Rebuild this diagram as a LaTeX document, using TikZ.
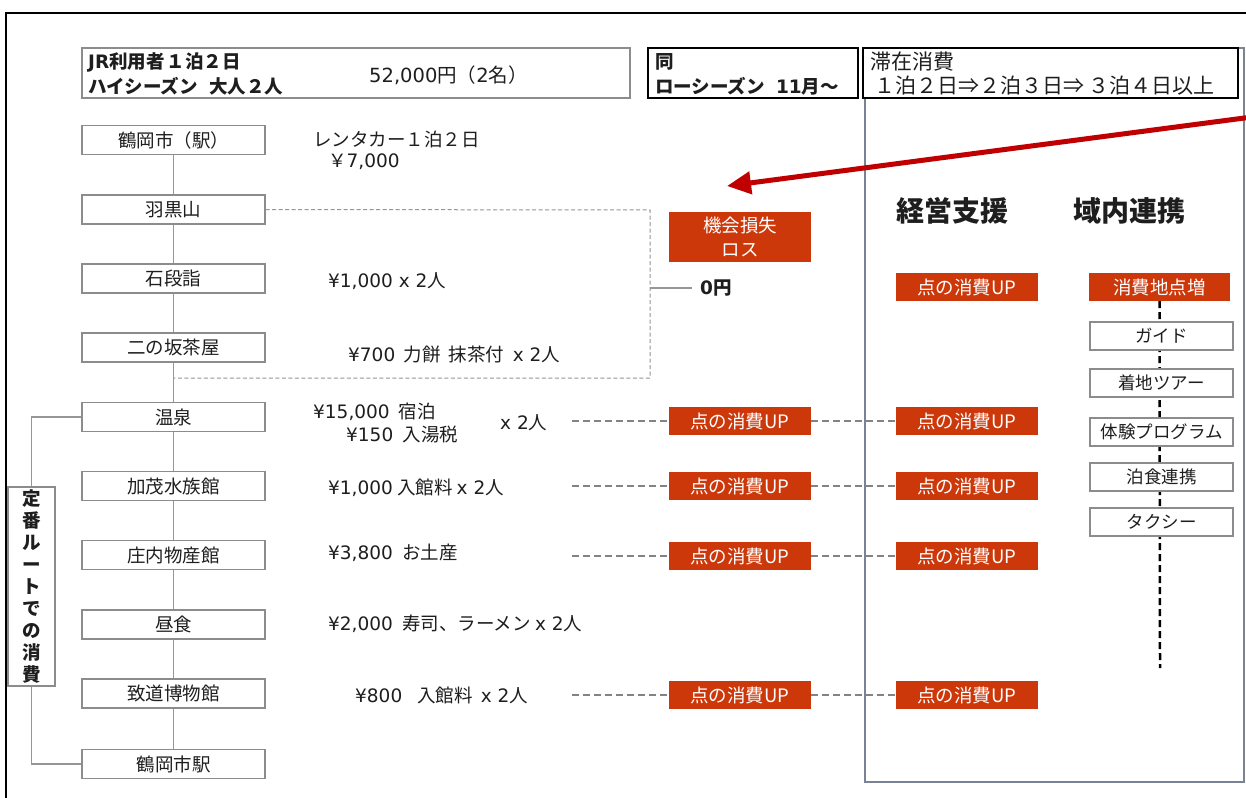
\documentclass[tikz,border=0pt]{standalone}
\usepackage{fontspec}
\setmainfont{Noto Sans CJK JP}
\newfontfamily\lat{DejaVu Sans}
\usetikzlibrary{arrows.meta}
\definecolor{accent}{RGB}{204,56,10}
\definecolor{boxgray}{RGB}{140,140,140}
\definecolor{linegray}{RGB}{150,150,150}
\definecolor{dashgray}{RGB}{130,130,136}
\definecolor{panelline}{RGB}{120,132,150}
\definecolor{arrowred}{RGB}{192,0,0}
\definecolor{ink}{RGB}{30,30,30}
\tikzset{
  base/.style={font=\fontsize{18.5}{22}\selectfont, text=ink, inner sep=0pt},
  treebox/.style={base, draw=boxgray, line width=1.2pt, fill=white, minimum width=183pt, minimum height=29pt},
  sidebox/.style={base, font=\fontsize{17.5}{21}\selectfont, draw=boxgray, line width=1.2pt, fill=white, minimum width=143pt, minimum height=28pt},
  orbox/.style={base, fill=accent, text=white, minimum width=142pt, minimum height=28pt},
  hdrbox/.style={draw=boxgray, line width=1.2pt, minimum height=50pt},
  darkbox/.style={draw=black, line width=2pt, fill=white, minimum height=50pt},
  txt/.style={base, anchor=west},
  btxt/.style={base, anchor=west, font=\fontsize{18.5}{22}\selectfont\bfseries},
  bigtxt/.style={base, anchor=west, font=\fontsize{21}{25}\selectfont},
  heading/.style={base, font=\fontsize{28}{32}\selectfont\bfseries},
  conn/.style={draw=linegray, line width=1.2pt},
  thindash/.style={draw=linegray, line width=1pt, dash pattern=on 4pt off 2.5pt},
  rowdash/.style={draw=dashgray, line width=2pt, dash pattern=on 7pt off 4pt},
  blackdash/.style={draw=black, line width=2.5pt, dash pattern=on 7pt off 4pt},
  redarrow/.style={draw=arrowred, line width=5pt, -{Triangle[length=24pt,width=22pt]}},
}
\begin{document}
\begin{tikzpicture}[x=1pt,y=-1pt]
\useasboundingbox (0,0) rectangle (1246,797);
\fill[white] (0,0) rectangle (1246,797);
% outer frame
\draw[black, line width=2pt] (6,800) -- (6,13) -- (1250,13);

% right panel
\draw[panelline, line width=1.3pt] (865,48) rectangle (1244,782);

% header boxes
\node[hdrbox, minimum width=548pt] (h1) at (356,73) {};
\node[btxt] (h1a) at (88,62) {{\lat JR}利用者\hspace{0.1em}１泊２日};
\node[btxt] (h1b) at (88,86) {ハイシーズン\hspace{0.6em}大人２人};
\node[txt, font=\fontsize{19.5}{23}\selectfont] (h1c) at (369,75) {{\lat 52,000}円（{\lat 2}名）};
\node[darkbox, minimum width=210pt] (h2) at (753,73) {};
\node[btxt] (h2a) at (655,62) {同};
\node[btxt] (h2b) at (655,86) {ローシーズン\hspace{0.6em}{\lat 11}月～};
\node[darkbox, minimum width=375pt] (h3) at (1050.5,73) {};
\node[bigtxt] (h3a) at (870,62) {滞在消費};
\node[bigtxt] (h3b) at (874,86) {１泊２日⇒２泊３日⇒ ３泊４日以上};

% tree
\node[treebox] (t1) at (173.5,140) {鶴岡市（駅）};
\node[treebox] (t2) at (173.5,209.5) {羽黒山};
\node[treebox] (t3) at (173.5,278.5) {石段詣};
\node[treebox] (t4) at (173.5,347.5) {二の坂茶屋};
\node[treebox] (t5) at (173.5,417) {温泉};
\node[treebox] (t6) at (173.5,486) {加茂水族館};
\node[treebox] (t7) at (173.5,555) {庄内物産館};
\node[treebox] (t8) at (173.5,624.5) {昼食};
\node[treebox] (t9) at (173.5,693.5) {致道博物館};
\node[treebox] (t10) at (173.5,764) {鶴岡市駅};
\draw[conn] (t1) -- (t2) -- (t3) -- (t4) -- (t5) -- (t6) -- (t7) -- (t8) -- (t9) -- (t10);

% side label
\node[base, draw=boxgray, line width=1.2pt, fill=white, minimum width=47pt, minimum height=199pt,
      align=center, font=\fontsize{18.5}{22}\selectfont\bfseries] (lab) at (31.5,586.5)
      {定\\番\\ル\\ー\\ト\\で\\の\\消\\費};
\draw[conn] (t5.west) -| (lab.north);
\draw[conn] (t10.west) -| (lab.south);

% price texts
\node[txt] (p1a) at (313,140) {レンタカー１泊２日};
\node[txt] (p1b) at (328,162) {￥{\lat 7,000}};
\node[txt] (p3) at (328,281) {{\lat ¥1,000 x 2}人};
\node[txt] (p4) at (348,354) {{\lat ¥700}\hspace{0.45em}力餅\hspace{0.45em}抹茶付\hspace{0.45em}{\lat x 2}人};
\node[txt] (p5a) at (313,412) {{\lat ¥15,000}\hspace{0.5em}宿泊};
\node[txt] (p5b) at (346,434) {{\lat ¥150}\hspace{0.5em}入湯税};
\node[txt] (p5c) at (500,423) {{\lat x 2}人};
\node[txt] (p6) at (328,488) {{\lat ¥1,000} 入館料 {\lat x 2}人};
\node[txt] (p7) at (328,553) {{\lat ¥3,800}\hspace{0.5em}お土産};
\node[txt] (p8) at (328,624) {{\lat ¥2,000}\hspace{0.5em}寿司、ラーメン {\lat x 2}人};
\node[txt] (p9) at (355,695) {{\lat ¥800}\hspace{0.8em}入館料\hspace{0.45em}{\lat x 2}人};

% loss bracket
\node[orbox, minimum height=50pt, align=center, font=\fontsize{18.5}{24}\selectfont] (loss) at (740,237) {機会損失\\ロス};
\node[btxt] (zero) at (700,288) {{\lat 0}円};
\coordinate (bk1) at (650,210);
\coordinate (bk2) at (650,378);
\coordinate (bk3) at (173.5,378);
\coordinate (bkm) at (650,288);
\draw[thindash] (t2.east) -- (bk1) -- (bk2) -- (bk3);
\draw[conn, shorten >=8pt] (bkm) -- (zero.west);

% red arrow
\coordinate (ra1) at (1252,117);
\coordinate (ra2) at (727,186);
\draw[redarrow] (ra1) -- (ra2);

% headings
\node[heading] (hd1) at (952,211) {経営支援};
\node[heading] (hd2) at (1129,211) {域内連携};

% orange boxes columns
\node[orbox] (a1) at (740,421) {点の消費UP};
\node[orbox] (a2) at (740,486) {点の消費UP};
\node[orbox] (a3) at (740,556) {点の消費UP};
\node[orbox] (a4) at (740,695) {点の消費UP};
\node[orbox] (b0) at (967,287) {点の消費UP};
\node[orbox] (b1) at (967,421) {点の消費UP};
\node[orbox] (b2) at (967,486) {点の消費UP};
\node[orbox] (b3) at (967,556) {点の消費UP};
\node[orbox] (b4) at (967,695) {点の消費UP};

\coordinate (d1) at (572,421);
\coordinate (d2) at (572,486);
\coordinate (d3) at (572,556);
\coordinate (d4) at (572,695);
\draw[rowdash] (d1) -- (a1.west); \draw[rowdash] (a1.east) -- (b1.west);
\draw[rowdash] (d2) -- (a2.west); \draw[rowdash] (a2.east) -- (b2.west);
\draw[rowdash] (d3) -- (a3.west); \draw[rowdash] (a3.east) -- (b3.west);
\draw[rowdash] (d4) -- (a4.west); \draw[rowdash] (a4.east) -- (b4.west);

% regional cooperation column
\node[orbox, minimum width=141pt] (c0) at (1159.5,287) {消費地点増};
\coordinate (cend) at (1160,668);
\draw[blackdash] (c0.south) -- (cend);
\node[sidebox] (c1) at (1161.5,336) {ガイド};
\node[sidebox] (c2) at (1161.5,383) {着地ツアー};
\node[sidebox] (c3) at (1161.5,432) {体験プログラム};
\node[sidebox] (c4) at (1161.5,477) {泊食連携};
\node[sidebox] (c5) at (1161.5,522) {タクシー};
\end{tikzpicture}
\end{document}
